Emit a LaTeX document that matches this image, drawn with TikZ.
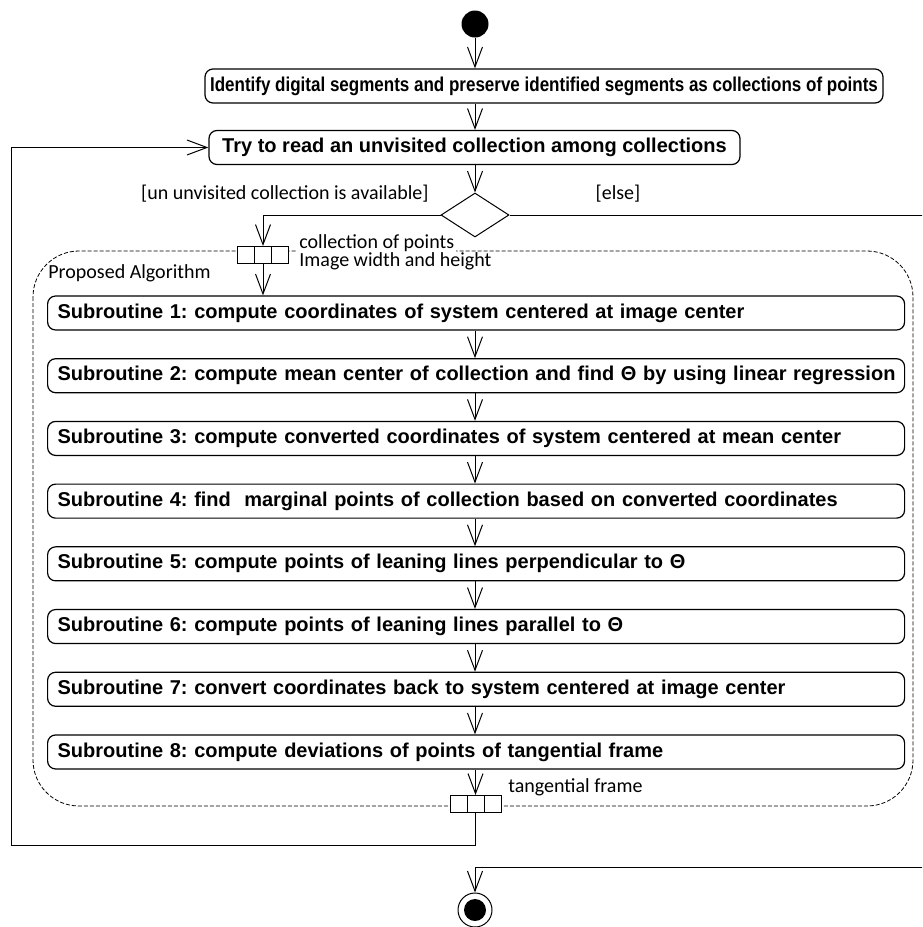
\documentclass[tikz,border=0pt]{standalone}
\usepackage{fontspec}
\setmainfont{Carlito}
\newfontfamily\actfont{Liberation Sans}
\usetikzlibrary{arrows.meta,positioning,shapes.geometric}
\frenchspacing

\tikzset{
  act/.style={draw, rounded corners=4pt, line width=0.6pt, minimum height=17pt,
    inner sep=0pt, font=\actfont\bfseries\fontsize{10}{12}\selectfont},
  subact/.style={act, anchor=west, text width=418.5pt, inner xsep=5pt, align=left},
  flow/.style={-{Straight Barb[length=10pt,width=7.5pt]}, line width=0.5pt},
  pincell/.style={draw, fill=white, line width=0.5pt, minimum width=8.5pt,
    minimum height=8.5pt, inner sep=0pt, outer sep=0pt},
  lbl/.style={font=\fontsize{10}{9}\selectfont, inner sep=0pt}
}

\begin{document}
\begin{tikzpicture}[x=0.5pt,y=-0.5pt,node distance=0pt]

  % fix the page, cut off what runs past its edge
  \useasboundingbox (0,0) rectangle (922,927);
  \clip (0,0) rectangle (922,927);

  % initial node
  \node [circle, fill=black, minimum size=13.5pt, inner sep=0pt] (start) at (475,24) {};

  % actions before the loop
  \node [act, minimum width=339pt] (idseg) at (544,86)
    {\scalebox{0.85}[1]{Identify digital segments and preserve identified segments as collections of points}};
  \node [act, minimum width=265.5pt] (try) at (474.5,147.5)
    {Try to read an unvisited collection among collections};

  % decision with its guards
  \node [diamond, draw, line width=0.5pt, minimum width=34pt, minimum height=22pt, inner sep=0pt] (dec) at (475,215) {};
  \node [lbl, anchor=east] (guardyes) at (429,194) {[un unvisited collection is available]};
  \node [lbl] (guardelse) at (618,194) {[else]};

  % expansion region
  \draw [dash pattern=on 2pt off 1pt, line width=0.4pt, rounded corners=23pt] (33,251) rectangle (913,806);
  \node [lbl, anchor=west] (region) at (48,273) {Proposed Algorithm};

  % input pin
  \node [pincell] (pinin) at (263,254.5) {};
  \node [pincell, left=of pinin] (pininl) {};
  \node [pincell, right=of pinin] (pininr) {};
  \node [lbl, anchor=base west, fill=white, inner xsep=1pt, inner ysep=1pt] (pininlbl) at (297,248) {collection of points};
  \node [lbl, anchor=base west, inner xsep=1pt] (pininlblb) at (297,266) {Image width and height};

  % subroutines
  \foreach \i/\txt in {
      1/compute coordinates of system centered at image center,
      2/compute mean center of collection and find Θ by using linear regression,
      3/compute converted coordinates of system centered at mean center,
      4/find\ \ marginal points of collection based on converted coordinates,
      5/compute points of leaning lines perpendicular to Θ,
      6/compute points of leaning lines parallel to Θ,
      7/convert coordinates back to system centered at image center,
      8/compute deviations of points of tangential frame} {
    \node [subact] (sub\i) at (47,{313+62.71*(\i-1)}) {\mbox{Subroutine \i: \txt}};
  }

  % output pin
  \node [pincell] (pinout) at (475.5,803.5) {};
  \node [pincell, left=of pinout] (pinoutl) {};
  \node [pincell, right=of pinout] (pinoutr) {};
  \node [lbl, anchor=west] (pinoutlbl) at (508,787) {tangential frame};

  % final node
  \node [circle, draw, line width=0.5pt, minimum size=17pt, inner sep=0pt,
    path picture={\fill (path picture bounding box.center) circle (5.5pt);}] (fin) at (475,910) {};

  % bends of the loop and of the else branch
  \coordinate (loopturn) at (11,845);
  \coordinate (elseturn) at (935,867);

  % control flow
  \draw [flow] (start) -- (start |- idseg.north);
  \draw [flow] (start |- idseg.south) -- (start |- try.north);
  \draw [flow] (try.south -| dec) -- (dec.north);
  \draw [flow] (dec.west) -| (pinin.north);
  \draw [flow] (pinin.south) -- (pinin.south |- sub1.north);
  \foreach \i [count=\j from 2] in {1,...,7}
    \draw [flow] (sub\i.south -| dec) -- (sub\j.north -| dec);
  \draw [flow] (sub8.south -| pinout) -- (pinout.north);
  \draw [flow] (pinout.south) |- (loopturn) |- (try.west);
  \draw [flow] (dec.east) -| (elseturn) -| (fin.north);

\end{tikzpicture}
\end{document}
